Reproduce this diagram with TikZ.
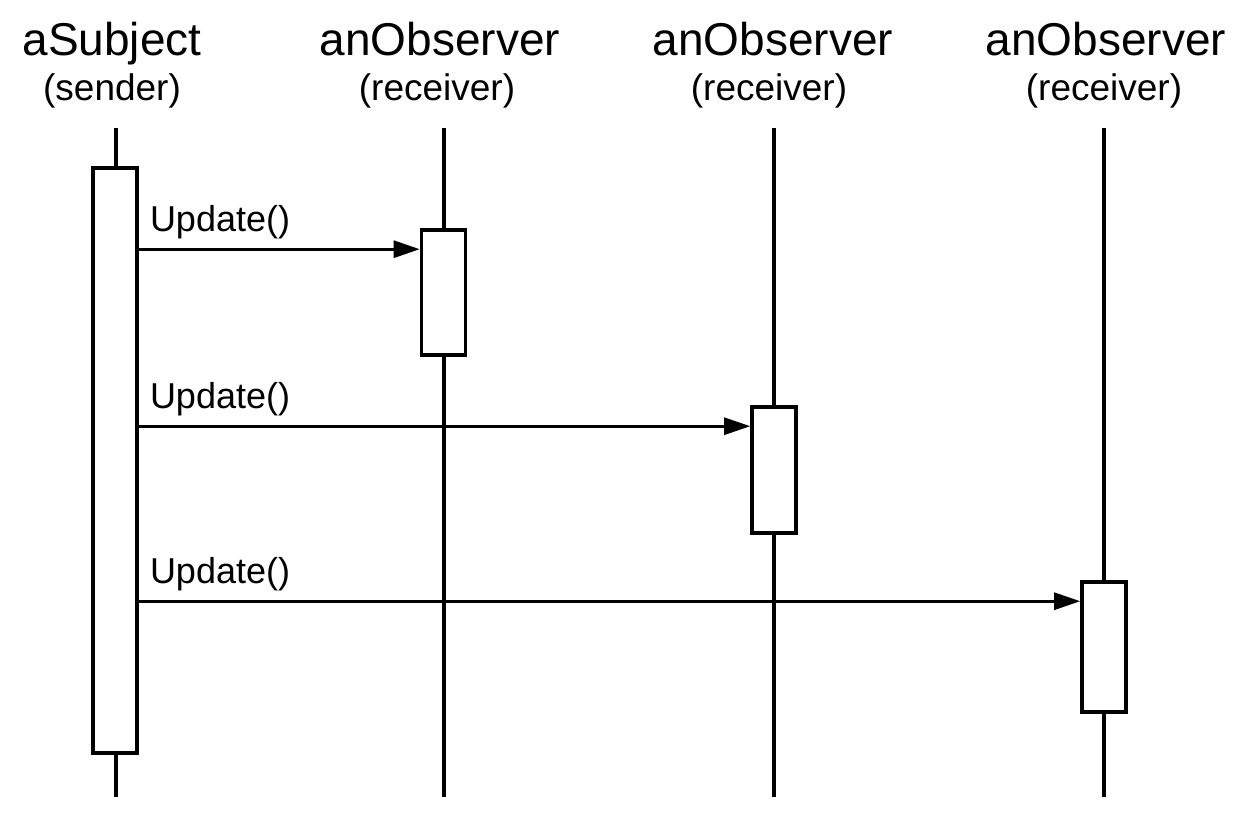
\documentclass[tikz,border=0pt]{standalone}
\usepackage{fontspec}
\setmainfont{Liberation Sans}
\usepackage{tikz}
\usetikzlibrary{calc,positioning,arrows.meta}
\tikzset{
  >={Triangle[length=26pt,width=17pt]},
  objeto/.style={font=\fontsize{46}{50}\selectfont, inner sep=0pt, anchor=base},
  papel/.style={font=\fontsize{37}{40}\selectfont, inner sep=0pt, anchor=base},
  lifeline/.style={draw, line width=3.2pt},
  ativacao/.style={
    rectangle,
    draw=black, line width=3.6pt,
    fill=white,
    minimum width=44pt,
    inner sep=0pt},
  msg/.style={draw, line width=2.8pt, ->},
  rotulo/.style={font=\fontsize{36}{40}\selectfont, inner sep=0pt, anchor=base west},
}

\begin{document}
\begin{tikzpicture}
  [x=1pt, y=-1pt]
     \useasboundingbox[fill=white] (0,0) rectangle (1248,814);
     % objetos
     \node[objeto] (subj) at (112,55) {aSubject};
     \node[papel] (subjp) at (112,100) {(sender)};
     \node[objeto] (obs1) at (440,55) {anObserver};
     \node[papel] (obs1p) at (437,100) {(receiver)};
     \node[objeto] (obs2) at (773,55) {anObserver};
     \node[papel] (obs2p) at (769,100) {(receiver)};
     \node[objeto] (obs3) at (1106,55) {anObserver};
     \node[papel] (obs3p) at (1104,100) {(receiver)};
     % linhas de vida
     \foreach \x/\n in {116/0, 444/1, 774/2, 1104/3} {
       \coordinate (topo\n) at (\x,128);
       \coordinate (base\n) at (\x,797);
       \draw[lifeline] (topo\n) -- (base\n);
     }
     % ativacoes
     \node[ativacao, minimum height=585pt] (ativ0) at (115,460.5) {};
     \node[ativacao, minimum height=125pt] (ativ1) at (443.5,292.5) {};
     \node[ativacao, minimum height=126pt] (ativ2) at (774,470) {};
     \node[ativacao, minimum height=130pt] (ativ3) at (1104,647) {};
     % mensagens
     \foreach \n in {1,2,3} {
       \coordinate (msg\n) at ([yshift=-21pt]ativ\n.north west);
       \draw[msg] (ativ0.east |- msg\n) -- (msg\n);
       \node[rotulo] (upd\n) at ([xshift=11pt,yshift=18pt]ativ0.east |- msg\n) {Update()};
     }
\end{tikzpicture}
\end{document}
